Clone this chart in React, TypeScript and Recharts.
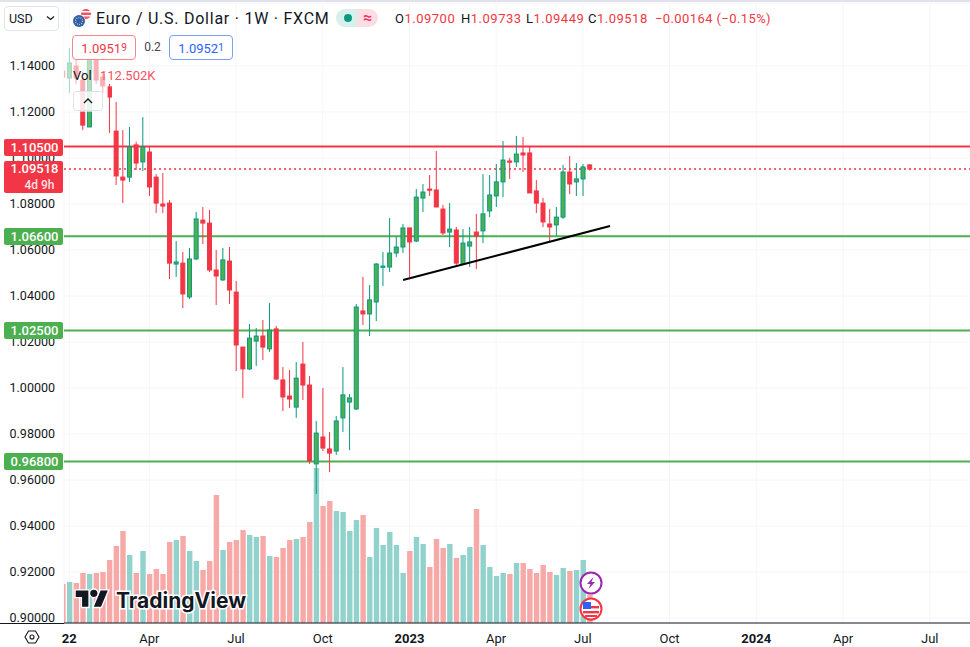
import React from "react";
import { ComposedChart, Bar, XAxis, YAxis, CartesianGrid, ReferenceLine, Cell } from "recharts";

const opens = [1.1378,1.1348,1.14,1.1339,1.1135,1.1435,1.1352,1.1309,1.1117,1.0917,1.0917,1.1057,1.0983,1.1026,1.0917,1.08,1.0804,1.0539,1.0543,1.0396,1.0561,1.073,1.0717,1.0513,1.047,1.0552,1.0417,1.0178,1.0083,1.0204,1.0226,1.017,1.0257,1.0035,0.9965,0.9917,1.0104,1.0013,0.967,0.9787,0.9735,0.9726,0.987,0.9939,0.9909,1.0335,1.0322,1.0374,1.0526,1.0526,1.0587,1.0613,1.0696,1.0639,1.0826,1.0865,1.0861,1.0778,1.0678,1.0687,1.0539,1.0617,1.0678,1.0683,1.077,1.0835,1.0896,1.0987,1.0983,1.1022,1.1022,1.0857,1.0804,1.0713,1.0709,1.0743,1.0939,1.0896,1.0909,1.097];
const closes = [1.1352,1.1413,1.1348,1.1143,1.1435,1.1339,1.1313,1.1265,1.0922,1.0904,1.1048,1.0978,1.1048,1.0874,1.0804,1.0791,1.0543,1.0548,1.0409,1.0561,1.0735,1.0717,1.0513,1.0487,1.0557,1.0426,1.0187,1.0083,1.0217,1.0226,1.0178,1.0252,1.0039,0.9961,0.9952,1.0043,1.0013,0.9683,0.9804,0.9739,0.9717,0.9857,0.997,0.9957,1.0352,1.0322,1.0383,1.0539,1.053,1.0587,1.0613,1.0696,1.0635,1.083,1.0852,1.0861,1.0787,1.0674,1.0691,1.0543,1.063,1.0635,1.0661,1.0757,1.0839,1.0896,1.0991,1.0983,1.1017,1.1013,1.0848,1.0804,1.0722,1.07,1.0743,1.0939,1.0887,1.0909,1.0961,1.09518];
const highs = [1.1383,1.1478,1.1426,1.1374,1.147,1.1461,1.1374,1.1322,1.1243,1.1122,1.1135,1.107,1.1178,1.1048,1.093,1.0935,1.0817,1.0639,1.0591,1.0609,1.0765,1.0787,1.0774,1.06,1.0609,1.0613,1.0465,1.0178,1.0278,1.0261,1.0296,1.037,1.027,1.0091,1.0078,1.0113,1.02,1.0052,0.9857,1.0,0.9809,0.9878,1.0091,0.9974,1.0365,1.0483,1.0448,1.0543,1.0591,1.0739,1.0657,1.0713,1.0696,1.0865,1.0887,1.0926,1.103,1.0796,1.0804,1.07,1.0691,1.07,1.0757,1.093,1.0926,1.0974,1.1074,1.1,1.1096,1.1091,1.1048,1.0904,1.0826,1.0778,1.0787,1.097,1.1009,1.0978,1.0974,1.09733];
const lows = [1.1348,1.1283,1.1322,1.1122,1.1135,1.1322,1.1283,1.1109,1.0883,1.0804,1.0896,1.0948,1.0943,1.0835,1.0761,1.0761,1.0474,1.0483,1.0348,1.0387,1.0557,1.0626,1.0504,1.0361,1.0465,1.0365,1.0074,0.9957,1.0078,1.0096,1.0122,1.0157,1.0035,0.99,0.9913,0.987,0.9948,0.967,0.9539,0.9726,0.9635,0.9709,0.9809,0.973,0.9904,1.0274,1.0226,1.0291,1.0443,1.0504,1.057,1.0587,1.0483,1.0635,1.0765,1.0835,1.0787,1.0665,1.0613,1.0535,1.0535,1.0526,1.0517,1.063,1.0743,1.0787,1.083,1.0909,1.0961,1.0939,1.0848,1.0761,1.07,1.0635,1.0661,1.0735,1.0843,1.0835,1.0835,1.09449];
const volumesK = [156,164,160,200,196,200,204,252,308,368,272,200,288,196,216,196,324,332,348,288,248,212,248,512,292,324,332,372,352,344,348,268,264,300,332,336,344,404,620,468,488,448,444,368,412,432,264,380,312,364,312,200,288,344,316,224,336,300,316,260,272,304,456,312,224,188,200,196,240,240,216,200,232,204,192,220,208,212,252,112.502];

const priceTicks = [0.9,0.92,0.94,0.96,0.98,1.0,1.02,1.04,1.06,1.08,1.1,1.12,1.14];
const timeTickIndex = [1,13,26,39,52,65,78,91,104,117,130];
const timeTickLabels = ["22","Apr","Jul","Oct","2023","Apr","Jul","Oct","2024","Apr","Jul"];
const boldTimeTicks = ["22","2023","2024"];
const resistanceLevel = 1.105;
const supportLevels = [1.066,1.025,0.968];
const lastClose = 1.09518;
const trendFrom = { week: 51.04, price: 1.04696 };
const trendTo = { week: 82.07, price: 1.07043 };

const rows = opens.map((o, i) => ({
  week: i, open: o, close: closes[i], high: highs[i], low: lows[i],
  range: [lows[i], highs[i]], volume: volumesK[i],
}));

const RED = "#f23645", TEAL = "#089981", GREEN = "#4caf50", INK = "#131722";
const FONT = "Roboto, sans-serif";

function Candle(p: any) {
  const { x, y, width, height, payload } = p;
  const k = height / (payload.high - payload.low);
  const up = payload.close >= payload.open;
  const top = y + (payload.high - Math.max(payload.open, payload.close)) * k;
  const bh = Math.max(1.2, Math.abs(payload.open - payload.close) * k);
  const cx = x + width / 2;
  return (
    <g>
      <rect x={cx - 0.5} y={y} width={1} height={height} fill={up ? TEAL : RED} />
      <rect x={x + 0.5} y={top} width={width - 1} height={bh} fill={up ? GREEN : RED} stroke={up ? TEAL : RED} strokeWidth={1} />
    </g>
  );
}

function TimeTick(p: any) {
  const { x, y, index } = p;
  const label = timeTickLabels[index];
  const bold = boldTimeTicks.includes(label);
  return (
    <text x={x} y={y + 12} textAnchor="middle" fontSize={13} fontWeight={bold ? 700 : 400} fill={INK} fontFamily={FONT}>
      {label}
    </text>
  );
}

const abs = (l: number, t: number, w: number, h: number, extra: any = {}) => ({
  position: "absolute" as const, left: l, top: t, width: w, height: h, boxSizing: "border-box" as const, ...extra,
});

function Tag({ top, h = 17, bg, children }: any) {
  return (
    <div style={abs(4, top, 59, h, { background: bg, color: "#fff", borderRadius: 2, textAlign: "center", fontSize: 13, fontWeight: 500, lineHeight: "17px", paddingLeft: 2 })}>
      {children}
    </div>
  );
}

const Ohlc = ({ left, k, v }: any) => (
  <div style={abs(left, 10, 70, 18, { fontSize: 13, lineHeight: "18px", whiteSpace: "nowrap", letterSpacing: 0.5 })}>
    {k}<span style={{ color: RED }}>{v}</span>
  </div>
);

export default function App() {
  return (
    <div style={abs(0, 0, 970, 647, { background: "#fff", overflow: "hidden", fontFamily: FONT, color: INK })}>
      <ComposedChart width={970} height={647} data={rows} margin={{ top: 3, right: 0, bottom: 0, left: 0 }}>
        <CartesianGrid stroke="#f5f6f8" strokeWidth={1} xAxisId="t" yAxisId="p" />
        <XAxis xAxisId="t" type="number" dataKey="week" domain={[0.21, 136.04]} allowDataOverflow ticks={timeTickIndex}
          height={24} tick={<TimeTick />} tickLine={false} axisLine={{ stroke: INK, strokeWidth: 1 }} interval={0} />
        <XAxis xAxisId="v" type="number" dataKey="week" domain={[0.21, 136.04]} allowDataOverflow hide />
        <YAxis yAxisId="p" orientation="left" width={64} domain={[0.89783, 1.16739]} allowDataOverflow ticks={priceTicks}
          interval={0} tickFormatter={(v: number) => v.toFixed(5)} tick={{ fontSize: 12.5, fill: INK, fontFamily: FONT }}
          tickLine={false} axisLine={false} tickMargin={3} />
        <YAxis yAxisId="vol" hide domain={[0, 2480]} />
        <Bar xAxisId="v" yAxisId="vol" dataKey="volume" barSize={5.4} isAnimationActive={false}>
          {rows.map((r) => (
            <Cell key={r.week} fill={r.close >= r.open ? "#92d2cc" : "#f7a9a7"} />
          ))}
        </Bar>
        <ReferenceLine xAxisId="t" yAxisId="p" y={resistanceLevel} stroke={RED} strokeWidth={2} zIndex={250} />
        {supportLevels.map((s) => (
          <ReferenceLine key={s} xAxisId="t" yAxisId="p" y={s} stroke={GREEN} strokeWidth={2} zIndex={250} />
        ))}
        <ReferenceLine xAxisId="t" yAxisId="p" y={lastClose} stroke={RED} strokeWidth={1.5} strokeDasharray="2 3" zIndex={250} />
        <Bar xAxisId="t" yAxisId="p" dataKey="range" barSize={5} shape={<Candle />} isAnimationActive={false} />
        <ReferenceLine xAxisId="t" yAxisId="p" stroke="#000" strokeWidth={2} ifOverflow="visible"
          segment={[{ x: trendFrom.week, y: trendFrom.price }, { x: trendTo.week, y: trendTo.price }]} />
      </ComposedChart>

      {/* baseline under the price scale, top rule */}
      <div style={abs(0, 623, 64, 1, { background: INK })} />
      <div style={abs(0, 0, 970, 2, { background: "#e0e3eb" })} />

      {/* legend veil over the first candles */}
      <div style={abs(64, 30, 44, 82, { background: "rgba(255,255,255,0.6)" })} />

      {/* price tags */}
      <Tag top={139} bg={RED}>1.10500</Tag>
      <div style={abs(4, 161, 59, 32, { background: RED, color: "#fff", borderRadius: 2, textAlign: "center", fontSize: 13, fontWeight: 500, lineHeight: "16px", paddingLeft: 2 })}>
        1.09518<br /><span style={{ fontSize: 12, opacity: 0.85, paddingLeft: 10 }}>4d 9h</span>
      </div>
      <Tag top={228} bg={GREEN}>1.06600</Tag>
      <Tag top={322} bg={GREEN}>1.02500</Tag>
      <Tag top={453} bg={GREEN}>0.96800</Tag>

      {/* header */}
      <div style={abs(4, 6, 55, 25, { border: "1px solid #e0e3eb", borderRadius: 4, fontSize: 12.5, lineHeight: "23px", paddingLeft: 4 })}>USD</div>
      <svg style={abs(46, 15, 9, 6)} viewBox="0 0 9 6"><path d="M1 1.5 L4.5 4.5 L8 1.5" fill="none" stroke={INK} strokeWidth={1.2} /></svg>
      <svg style={abs(72, 8, 22, 20)} viewBox="0 0 22 20">
        <circle cx={14} cy={6} r={5} fill="#f7525f" />
        <rect x={9} y={3} width={10} height={1.5} fill="#fff" /><rect x={9} y={7} width={10} height={1.5} fill="#fff" />
        <circle cx={7} cy={13} r={6.5} fill="#fff" /><circle cx={7} cy={13} r={6} fill="#2b5fb8" />
        <circle cx={7} cy={13} r={3.5} fill="none" stroke="#f5c842" strokeWidth={1.2} strokeDasharray="1 1.2" />
      </svg>
      <div style={abs(96, 8, 240, 22, { fontSize: 16, lineHeight: "22px", whiteSpace: "nowrap", letterSpacing: 0.75 })}>Euro / U.S. Dollar · 1W · FXCM</div>
      <div style={abs(336, 9, 21, 18, { background: "#d8f0ec", borderRadius: "9px 0 0 9px" })} />
      <div style={abs(357, 9, 21, 18, { background: "#fbdde3", borderRadius: "0 9px 9px 0", color: "#f23666", fontSize: 16, lineHeight: "18px", textAlign: "center", fontWeight: 700 })}>≈</div>
      <div style={{ ...abs(344, 14, 8, 8), background: TEAL, borderRadius: 4 }} />
      <Ohlc left={395} k="O" v="1.09700" />
      <Ohlc left={461} k="H" v="1.09733" />
      <Ohlc left={526} k="L" v="1.09449" />
      <Ohlc left={588} k="C" v="1.09518" />
      <div style={abs(655, 10, 115, 18, { fontSize: 13, lineHeight: "18px", whiteSpace: "nowrap", letterSpacing: 0.4, color: RED })}>−0.00164 (−0.15%)</div>

      {/* buy / sell */}
      <div style={abs(72, 35, 64, 25, { border: "1px solid #f7858f", borderRadius: 4, background: "#fff", color: RED, fontSize: 13, lineHeight: "23px", textAlign: "center" })}>
        1.0951<span style={{ fontSize: 10, verticalAlign: 2 }}>9</span>
      </div>
      <div style={abs(136, 35, 33, 25, { fontSize: 12, lineHeight: "25px", textAlign: "center", color: "#434651" })}>0.2</div>
      <div style={abs(169, 35, 64, 25, { border: "1px solid #7b9df5", borderRadius: 4, background: "#fff", color: "#2962ff", fontSize: 13, lineHeight: "23px", textAlign: "center" })}>
        1.0952<span style={{ fontSize: 10, verticalAlign: 2 }}>1</span>
      </div>

      {/* volume legend */}
      <div style={abs(73, 67, 30, 18, { fontSize: 13, lineHeight: "18px" })}>Vol</div>
      <div style={abs(100, 67, 70, 18, { fontSize: 13, lineHeight: "18px", color: "#f7525f" })}>112.502K</div>
      <div style={abs(73, 91, 30, 20, { border: "1px solid #e0e3eb", borderRadius: 3, background: "rgba(255,255,255,0.7)" })} />
      <svg style={abs(83, 98, 10, 6)} viewBox="0 0 10 6"><path d="M1 5 L5 1 L9 5" fill="none" stroke={INK} strokeWidth={1.3} /></svg>

      {/* logo */}
      <svg style={abs(73, 587, 38, 28)} viewBox="-3 0 42 31">
        <g fill="#131722" stroke="#fff" strokeWidth={3} paintOrder="stroke">
          <path d="M14 22H7V11H0V4h14v18zM28 22h-8l7.5-18h8L28 22z" />
          <circle cx={20} cy={7} r={4} />
        </g>
      </svg>
      <svg style={abs(110, 585, 140, 32)} viewBox="0 0 140 32">
        <text x={6} y={23} fontSize={21} fontWeight={700} fontFamily="Inter, sans-serif" fill="#131722" stroke="#fff" strokeWidth={3} paintOrder="stroke">TradingView</text>
      </svg>

      {/* settings gear */}
      <svg style={abs(24, 629, 16, 16)} viewBox="0 0 16 16">
        <path d="M4.5 2 H11.5 L15 8 L11.5 14 H4.5 L1 8 Z" fill="none" stroke={INK} strokeWidth={1.1} />
        <circle cx={8} cy={8} r={2} fill="none" stroke={INK} strokeWidth={1.1} />
      </svg>

      {/* event markers */}
      <svg style={abs(578, 571, 26, 50)} viewBox="0 0 26 50">
        <circle cx={13} cy={12} r={10.5} fill="#fff" stroke="#9c27b0" strokeWidth={2} />
        <path d="M15.5 6 L9 13 H12.5 L10.5 18 L17 11 H13.5 Z" fill="#9c27b0" />
        <path d="M9 44 L13 50 L17 44 Z" fill="#f23645" />
        <circle cx={13} cy={38} r={10.5} fill="#fff" stroke="#f23645" strokeWidth={2} />
        <rect x={5} y={40} width={16} height={2.4} fill="#f23645" />
        <rect x={7} y={44} width={12} height={2} fill="#f23645" />
        <rect x={13} y={35} width={8} height={2.4} fill="#f23645" />
        <rect x={5} y={31} width={8} height={7} fill="#2962ff" />
      </svg>
    </div>
  );
}
